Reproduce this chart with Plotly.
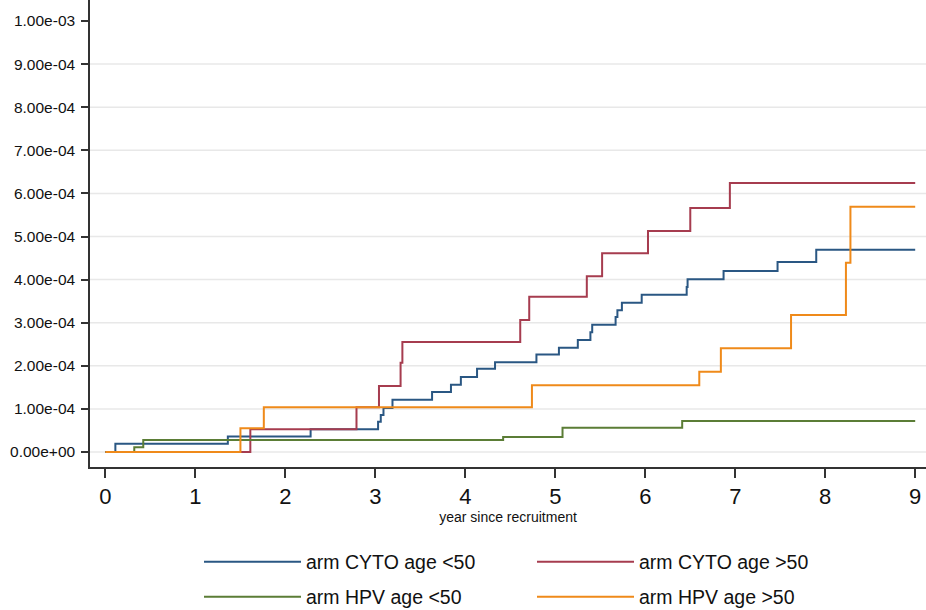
import plotly.graph_objects as go

# Axis ticks
year_ticks = [0, 1, 2, 3, 4, 5, 6, 7, 8, 9]
rate_ticks = [0.0, 1e-4, 2e-4, 3e-4, 4e-4, 5e-4, 6e-4, 7e-4, 8e-4, 9e-4, 1e-3]
rate_tick_text = ["0.00e+00", "1.00e-04", "2.00e-04", "3.00e-04", "4.00e-04",
                  "5.00e-04", "6.00e-04", "7.00e-04", "8.00e-04", "9.00e-04", "1.00e-03"]

# Cumulative incidence step functions (time in years, value in units of 1e-4)
cyto_lt50_t = [0, 0.11, 1.36, 2.28, 3.03, 3.06, 3.09, 3.19, 3.63, 3.84, 3.95, 4.13,
               4.33, 4.79, 5.04, 5.25, 5.39, 5.41, 5.67, 5.69, 5.74, 5.96, 6.46,
               6.47, 6.87, 7.47, 7.90, 9.0]
cyto_lt50_e4 = [0, 0.19, 0.36, 0.53, 0.70, 0.86, 1.02, 1.21, 1.39, 1.56, 1.74, 1.93,
                2.08, 2.26, 2.42, 2.60, 2.78, 2.95, 3.13, 3.29, 3.46, 3.65, 3.83,
                4.01, 4.20, 4.41, 4.69, 4.69]

cyto_gt50_t = [0, 1.61, 2.79, 3.04, 3.28, 3.30, 4.61, 4.71, 5.35, 5.52, 6.03,
               6.50, 6.94, 9.0]
cyto_gt50_e4 = [0, 0.53, 1.04, 1.53, 2.07, 2.55, 3.06, 3.60, 4.08, 4.61, 5.13,
                5.66, 6.24, 6.24]

hpv_lt50_t = [0, 0.32, 0.42, 4.42, 5.08, 6.41, 9.0]
hpv_lt50_e4 = [0, 0.11, 0.28, 0.35, 0.56, 0.72, 0.72]

hpv_gt50_t = [0, 1.50, 1.76, 4.74, 6.60, 6.84, 7.62, 8.23, 8.28, 9.0]
hpv_gt50_e4 = [0, 0.55, 1.04, 1.55, 1.86, 2.41, 3.18, 4.39, 5.69, 5.69]

series = [
    ("arm CYTO age <50", cyto_lt50_t, cyto_lt50_e4, "#2a5783", "legend"),
    ("arm CYTO age >50", cyto_gt50_t, cyto_gt50_e4, "#a63c4f", "legend"),
    ("arm HPV age <50", hpv_lt50_t, hpv_lt50_e4, "#5b7d36", "legend2"),
    ("arm HPV age >50", hpv_gt50_t, hpv_gt50_e4, "#ef8a1a", "legend2"),
]

fig = go.Figure()
for name, t, v, color, leg in series:
    fig.add_trace(go.Scatter(
        x=t, y=[val * 1e-4 for val in v], mode="lines", name=name,
        line=dict(shape="hv", width=2, color=color), legend=leg,
    ))

# light horizontal grid at every tick except the top one
for r in rate_ticks[:-1]:
    fig.add_shape(type="line", xref="paper", yref="y", x0=0, x1=1, y0=r, y1=r,
                  line=dict(color="#e8e8e8", width=1.5), layer="below")

font = "Liberation Sans, Arial, Helvetica, sans-serif"
legend_common = dict(
    orientation="h", xref="container", yref="container",
    xanchor="left", yanchor="middle", entrywidth=221, entrywidthmode="pixels",
    itemwidth=97, font=dict(family=font, size=19.5, color="#111"),
    bgcolor="rgba(0,0,0,0)", borderwidth=0,
)

fig.update_layout(
    width=926, height=610,
    margin=dict(l=90, r=0, t=0, b=143),
    paper_bgcolor="white", plot_bgcolor="white",
    font=dict(family=font, color="#111"),
    showlegend=True,
    legend=dict(x=199 / 926, y=1 - 562 / 610, **legend_common),
    legend2=dict(x=199 / 926, y=1 - 597 / 610, **legend_common),
    xaxis=dict(
        range=[-0.172, 9.12], tickvals=year_ticks, ticks="outside", ticklen=9,
        tickwidth=1.5, tickcolor="#333", showline=True, linecolor="#333",
        linewidth=1.5, showgrid=False, zeroline=False,
        tickfont=dict(size=22, family=font, color="#111"),
        title=dict(text="year since recruitment", font=dict(size=14, family=font, color="#111"),
                   standoff=4),
    ),
    yaxis=dict(
        range=[-0.348e-4, 1.0487e-3], tickvals=rate_ticks, ticktext=rate_tick_text,
        ticks="outside", ticklen=7, tickwidth=1.5, tickcolor="#333",
        showline=True, linecolor="#333", linewidth=1.5, showgrid=False,
        zeroline=False, tickfont=dict(size=15.5, family=font, color="#111"),
        ticklabelstandoff=3,
    ),
)

fig.write_html("out.html")
